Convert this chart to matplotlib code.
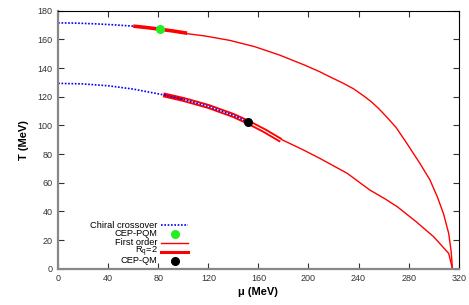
import matplotlib
matplotlib.use("Agg")
import matplotlib.pyplot as plt
from matplotlib.lines import Line2D
import numpy as np

plt.rcParams['font.family'] = ['Liberation Sans', 'DejaVu Sans']

# PQM model
pqm_cross_mu = [0, 15, 30, 45, 60]
pqm_cross_T = [171.5, 171.3, 170.8, 170.1, 169.2]
pqm_rq_mu = [60, 70, 82, 92, 103]
pqm_rq_T = [169.2, 168.3, 167.0, 165.8, 164.3]
pqm_first_mu = [97, 117, 137, 157, 177, 197, 209, 217, 227, 236, 244, 250, 256, 262, 270, 278, 289, 297, 303, 308, 312, 314, 315]
pqm_first_T = [164.6, 162.4, 159.3, 154.9, 149.0, 142.0, 137.4, 133.9, 129.7, 125.5, 120.6, 116.6, 111.8, 106.3, 98.5, 88.2, 73.5, 62.0, 50.0, 38.0, 24.7, 12.0, 0.0]
cep_pqm = (81.5, 167.0)

# QM model
qm_cross_mu = [0, 20, 40, 60, 84, 100, 120, 140, 152]
qm_cross_T = [129.3, 128.9, 127.6, 125.3, 121.3, 118.1, 113.2, 106.9, 102.1]
qm_rq_mu = [84, 100, 120, 140, 152, 165, 178]
qm_rq_T = [121.3, 118.1, 113.2, 106.9, 102.1, 96.2, 89.5]
qm_first_mu = [152, 165, 178, 196, 209, 231, 249, 261, 271, 286, 300, 306, 312, 315]
qm_first_T = [102.1, 96.0, 90.3, 82.8, 77.0, 66.5, 54.9, 48.8, 43.2, 32.8, 22.3, 16.5, 10.7, 0.0]
cep_qm = (152.0, 102.1)

legend_labels = ['Chiral crossover', 'CEP-PQM', 'First order', 'R$_\\mathregular{q}$=2', 'CEP-QM']

fig = plt.figure(figsize=(4.69, 3.05), dpi=100)
ax = fig.add_axes([0.124, 0.119, 0.854, 0.846])

ax.plot(pqm_first_mu, pqm_first_T, color='red', lw=1.0)
ax.plot(pqm_rq_mu, pqm_rq_T, color='red', lw=2.6, solid_capstyle='butt')
ax.plot(pqm_cross_mu, pqm_cross_T, color='blue', lw=1.2, ls=(0, (1, 1)))
ax.plot(*cep_pqm, 'o', color='#22ee22', ms=5.5)

ax.plot(qm_first_mu, qm_first_T, color='red', lw=1.0)
ax.plot(qm_rq_mu, qm_rq_T, color='red', lw=3.5, solid_capstyle='butt')
ax.plot(qm_rq_mu[1:], qm_rq_T[1:], color='white', lw=0.8, solid_capstyle='butt')
ax.plot(qm_cross_mu, qm_cross_T, color='blue', lw=1.2, ls=(0, (1, 1)))
ax.plot(*cep_qm, 'o', color='black', ms=5.5)

# gnuplot-style key: text right-aligned, sample on the right
styles = [dict(color='blue', lw=1.2, ls=(0, (1, 1))),
          dict(color='#22ee22', marker='o', ms=5.5, ls='none'),
          dict(color='red', lw=1.0),
          dict(color='red', lw=2.2),
          dict(color='black', marker='o', ms=5.5, ls='none')]
rows_y = [0.169, 0.1345, 0.100, 0.065, 0.030]
for lab, st, yy in zip(legend_labels, styles, rows_y):
    ax.text(0.248, yy, lab, transform=ax.transAxes, ha='right', va='center', fontsize=6.7)
    if st.get('marker'):
        ax.add_line(Line2D([0.2916], [yy], transform=ax.transAxes, **st))
    else:
        ax.add_line(Line2D([0.257, 0.324], [yy, yy], transform=ax.transAxes, **st))

ax.set_xlim(0, 320)
ax.set_ylim(0, 180)
ax.set_xticks(np.arange(0, 321, 40))
ax.set_yticks(np.arange(0, 181, 20))
ax.tick_params(direction='in', length=4, labelsize=6.5, top=True, right=True,
               colors='#333333', width=0.8, pad=4)
for s in ['left', 'bottom']:
    ax.spines[s].set_color('#888888')
    ax.spines[s].set_linewidth(1.6)
for s in ['top', 'right']:
    ax.spines[s].set_color('black')
    ax.spines[s].set_linewidth(0.8)

ax.set_xlabel('\u03bc (MeV)', fontsize=8, fontweight='bold', labelpad=3)
ax.set_ylabel('T (MeV)', fontsize=8, fontweight='bold', labelpad=6)

fig.savefig('out.png', dpi=100)
